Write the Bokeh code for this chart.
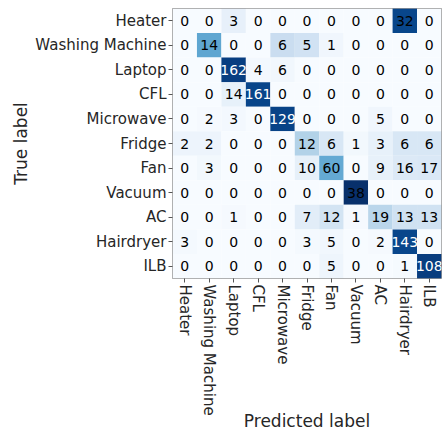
from bokeh.plotting import figure
from bokeh.models import ColumnDataSource, LinearColorMapper
from bokeh.transform import transform
from bokeh.palettes import Blues256
from bokeh.core.properties import value
from bokeh.embed import file_html
from bokeh.resources import INLINE

labels = ["Heater", "Washing Machine", "Laptop", "CFL", "Microwave", "Fridge",
          "Fan", "Vacuum", "AC", "Hairdryer", "ILB"]

row_heater = [0, 0, 3, 0, 0, 0, 0, 0, 0, 32, 0]
row_washing = [0, 14, 0, 0, 6, 5, 1, 0, 0, 0, 0]
row_laptop = [0, 0, 162, 4, 6, 0, 0, 0, 0, 0, 0]
row_cfl = [0, 0, 14, 161, 0, 0, 0, 0, 0, 0, 0]
row_microwave = [0, 2, 3, 0, 129, 0, 0, 0, 5, 0, 0]
row_fridge = [2, 2, 0, 0, 0, 12, 6, 1, 3, 6, 6]
row_fan = [0, 3, 0, 0, 0, 10, 60, 0, 9, 16, 17]
row_vacuum = [0, 0, 0, 0, 0, 0, 0, 38, 0, 0, 0]
row_ac = [0, 0, 1, 0, 0, 7, 12, 1, 19, 13, 13]
row_hairdryer = [3, 0, 0, 0, 0, 3, 5, 0, 2, 143, 0]
row_ilb = [0, 0, 0, 0, 0, 0, 5, 0, 0, 1, 108]

rows = [row_heater, row_washing, row_laptop, row_cfl, row_microwave, row_fridge,
        row_fan, row_vacuum, row_ac, row_hairdryer, row_ilb]

cmax = max(max(r) for r in rows)
xs, ys, vals, fracs, txtcol = [], [], [], [], []
for i, r in enumerate(rows):
    s = sum(r)
    for j, v in enumerate(r):
        xs.append(labels[j])
        ys.append(labels[i])
        vals.append(str(v))
        fracs.append(v / s if s else 0)
        txtcol.append("white" if v > cmax / 2 else "black")

src = ColumnDataSource(dict(x=xs, y=ys, val=vals, frac=fracs, tc=txtcol))

p = figure(width=443, height=437, x_range=labels, y_range=list(reversed(labels)),
           output_backend="svg", toolbar_location=None,
           min_border_left=172, min_border_right=2, min_border_top=8,
           min_border_bottom=159)

mapper = LinearColorMapper(palette=list(reversed(Blues256)), low=0, high=1)
p.rect(x="x", y="y", width=1, height=1, source=src,
       fill_color=transform("frac", mapper), line_color=None)
p.text(x="x", y="y", text="val", source=src, text_color="tc",
       text_align="center", text_baseline="middle",
       text_font=value("DejaVu Sans"), text_font_size="14px")

p.xgrid.grid_line_color = None
p.ygrid.grid_line_color = None
p.outline_line_color = "#999999"
p.outline_line_width = 1

for ax in (p.xaxis, p.yaxis):
    ax.axis_line_color = None
    ax.major_tick_line_color = "#555555"
    ax.major_tick_in = 0
    ax.major_tick_out = 4
    ax.minor_tick_line_color = None
    ax.major_label_standoff = 2
    ax.major_label_text_font = "DejaVu Sans"
    ax.major_label_text_font_size = "15px"
    ax.major_label_text_color = "#262626"
    ax.axis_label_text_font = "DejaVu Sans"
    ax.axis_label_text_font_size = "17px"
    ax.axis_label_text_font_style = "normal"
    ax.axis_label_text_color = "#262626"

p.xaxis.major_label_orientation = "vertical"
p.xaxis.axis_label = "Predicted label"
p.yaxis.axis_label = "True label"
p.xaxis.axis_label_standoff = -8
p.yaxis.axis_label_standoff = 1

open("out.html", "w").write(file_html(p, INLINE))
